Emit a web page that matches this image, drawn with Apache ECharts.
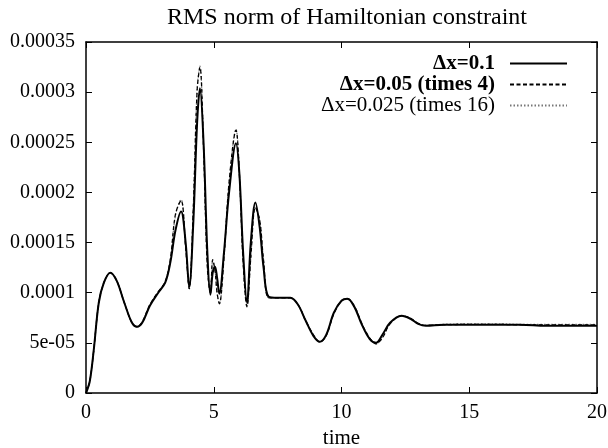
<!DOCTYPE html>
<html>
<head>
<meta charset="utf-8">
<script src="https://cdn.jsdelivr.net/npm/echarts@6/dist/echarts.min.js"></script>
<style>html,body{margin:0;padding:0;background:#fff}#c{width:608px;height:448px}</style>
</head>
<body>
<div id="c"></div>
<script>
// ---- data (values in units of 1e-4) ----
var timeValues = [0, 0.15, 0.3, 0.5, 0.7, 0.95, 1.2, 1.5, 1.8, 2.0, 2.2, 2.5, 2.8, 3.1, 3.3, 3.5, 3.72, 3.9, 4.04, 4.2, 4.35, 4.46, 4.6, 4.75, 4.87, 4.96, 5.05, 5.13, 5.22, 5.4, 5.6, 5.87, 6.0, 6.15, 6.3, 6.45, 6.63, 6.8, 6.95, 7.15, 7.5, 8.0, 8.3, 8.6, 8.9, 9.15, 9.4, 9.7, 10.0, 10.23, 10.5, 10.8, 11.1, 11.35, 11.6, 11.9, 12.35, 12.7, 13.0, 13.3, 14, 15, 16, 17, 18, 19, 20];
var dx01 = [0, 0.12, 0.42, 0.90, 1.10, 1.20, 1.12, 0.90, 0.70, 0.66, 0.70, 0.87, 0.99, 1.10, 1.30, 1.62, 1.81, 1.50, 1.06, 1.70, 2.70, 3.04, 2.50, 1.40, 0.98, 1.20, 1.26, 1.15, 0.99, 1.40, 2.00, 2.49, 2.20, 1.40, 0.90, 1.50, 1.90, 1.65, 1.25, 0.96, 0.95, 0.95, 0.88, 0.72, 0.57, 0.51, 0.58, 0.80, 0.92, 0.94, 0.86, 0.68, 0.54, 0.50, 0.58, 0.70, 0.77, 0.74, 0.69, 0.67, 0.68, 0.68, 0.68, 0.68, 0.67, 0.67, 0.67];
var dx005 = [0, 0.12, 0.42, 0.90, 1.10, 1.20, 1.12, 0.90, 0.70, 0.66, 0.71, 0.88, 1.00, 1.11, 1.33, 1.78, 1.92, 1.45, 1.04, 1.85, 3.02, 3.25, 2.45, 1.25, 1.00, 1.33, 1.22, 1.00, 0.89, 1.35, 2.10, 2.62, 2.20, 1.30, 0.86, 1.35, 1.85, 1.72, 1.32, 0.95, 0.95, 0.95, 0.88, 0.72, 0.58, 0.51, 0.57, 0.79, 0.92, 0.94, 0.87, 0.69, 0.55, 0.49, 0.55, 0.69, 0.77, 0.745, 0.695, 0.675, 0.68, 0.685, 0.685, 0.68, 0.68, 0.68, 0.68];
var dx0025 = [0, 0.12, 0.42, 0.90, 1.10, 1.20, 1.12, 0.90, 0.70, 0.66, 0.71, 0.88, 1.00, 1.11, 1.33, 1.77, 1.93, 1.46, 1.04, 1.86, 3.03, 3.26, 2.46, 1.26, 1.00, 1.32, 1.22, 1.00, 0.89, 1.35, 2.10, 2.63, 2.21, 1.30, 0.86, 1.35, 1.85, 1.72, 1.32, 0.95, 0.95, 0.95, 0.88, 0.72, 0.58, 0.51, 0.57, 0.79, 0.92, 0.94, 0.87, 0.69, 0.55, 0.49, 0.55, 0.69, 0.77, 0.745, 0.695, 0.675, 0.685, 0.69, 0.69, 0.685, 0.685, 0.685, 0.685];
var seriesNames = ['\u0394x=0.1', '\u0394x=0.05 (times 4)', '\u0394x=0.025 (times 16)'];
var yTickLabels = ['0', '5e-05', '0.0001', '0.00015', '0.0002', '0.00025', '0.0003', '0.00035'];
var xTickLabels = ['0', '5', '10', '15', '20'];
var titleText = 'RMS norm of Hamiltonian constraint';
var xName = 'time';

function pairs(vals) {
  return timeValues.map(function (t, i) { return [t, vals[i] * 1e-4]; });
}
var FONT = '"Liberation Serif", "Times New Roman", serif';
var chart = echarts.init(document.getElementById('c'), null, {renderer: 'canvas'});
var axisCommon = {
  axisLine: {show: true, onZero: false, lineStyle: {color: '#000', width: 1.5}},
  axisTick: {show: true, inside: true, length: 6, lineStyle: {color: '#000', width: 1}},
  splitLine: {show: false}
};
chart.setOption({
  animation: false,
  backgroundColor: '#fff',
  title: {
    text: titleText, left: 342, top: 1, textAlign: 'center',
    textStyle: {fontFamily: FONT, fontSize: 24, fontWeight: 'normal', color: '#000'}
  },
  legend: {
    orient: 'vertical', right: 35, top: 48, align: 'right',
    itemWidth: 57, itemHeight: 10, itemGap: 0,
    itemStyle: {color: 'transparent', borderColor: 'transparent', borderWidth: 0, opacity: 0},
    textStyle: {fontFamily: FONT, fontSize: 21, lineHeight: 20, color: '#000', padding: [0, 10, 0, 0]},
    data: [
      {name: seriesNames[0], textStyle: {fontWeight: 'bold'}},
      {name: seriesNames[1], textStyle: {fontWeight: 'bold'}},
      {name: seriesNames[2], textStyle: {fontWeight: 'normal'}}
    ]
  },
  grid: {left: 86, right: 11, top: 42, bottom: 55, containLabel: false, outerBoundsMode: 'none'},
  xAxis: [
    Object.assign({}, axisCommon, {
      type: 'value', min: 0, max: 20, interval: 5, position: 'bottom',
      name: xName, nameLocation: 'middle', nameGap: 33,
      nameTextStyle: {fontFamily: FONT, fontSize: 21, color: '#000'},
      axisLabel: {fontFamily: FONT, fontSize: 20, color: '#000', margin: 10,
        formatter: function (v) { return xTickLabels[Math.round(v / 5)]; }}
    }),
    Object.assign({}, axisCommon, {
      type: 'value', min: 0, max: 20, interval: 5, position: 'top',
      axisLabel: {show: false}
    })
  ],
  yAxis: [
    Object.assign({}, axisCommon, {
      type: 'value', min: 0, max: 0.00035, interval: 0.00005, position: 'left',
      axisLabel: {fontFamily: FONT, fontSize: 20, color: '#000', margin: 11,
        formatter: function (v) { return yTickLabels[Math.round(v / 0.00005)]; }}
    }),
    Object.assign({}, axisCommon, {
      type: 'value', min: 0, max: 0.00035, interval: 0.00005, position: 'right',
      axisLabel: {show: false}
    })
  ],
  series: [
    {name: seriesNames[2], type: 'line', data: pairs(dx0025), smooth: 0.35, symbol: 'none',
      lineStyle: {color: '#777', width: 1.2, type: [1.5, 2]}, itemStyle: {color: '#777'}, z: 2},
    {name: seriesNames[1], type: 'line', data: pairs(dx005), smooth: 0.35, symbol: 'none',
      lineStyle: {color: '#000', width: 1.3, type: [4, 2.5]}, itemStyle: {color: '#000'}, z: 3},
    {name: seriesNames[0], type: 'line', data: pairs(dx01), smooth: 0.35, symbol: 'none',
      lineStyle: {color: '#000', width: 2}, itemStyle: {color: '#000'}, z: 4}
  ]
});
</script>
</body>
</html>
